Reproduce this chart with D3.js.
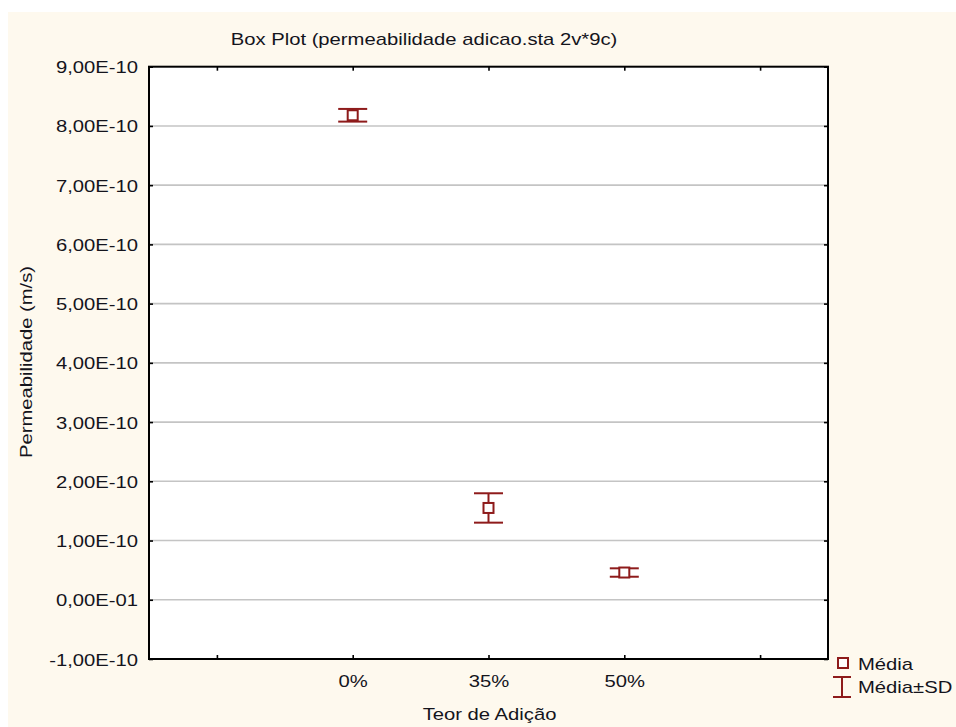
<!DOCTYPE html>
<html>
<head>
<meta charset="utf-8">
<script src="https://cdn.jsdelivr.net/npm/d3@7"></script>
<style>
  html, body { margin: 0; padding: 0; background: #fff; }
  svg { display: block; }
  text { font-family: "Liberation Sans", Arial, sans-serif; fill: #14141c; }
</style>
</head>
<body>
<svg id="chart" width="956" height="727"></svg>
<script>
// Mean ± SD of permeability by addition content
const groups = ["0%", "35%", "50%"];
const means = [8.18e-10, 1.55e-10, 0.46e-10];
const sds = [1.07e-11, 2.48e-11, 0.71e-11];

// Category slots along x (outer slots are empty)
const xTickLabels = ["", "0%", "35%", "50%", ""];

// Y axis ticks and their printed labels
const yTickValues = [-1e-10, 0, 1e-10, 2e-10, 3e-10, 4e-10, 5e-10, 6e-10, 7e-10, 8e-10, 9e-10];
const yTickLabels = ["-1,00E-10", "0,00E-01", "1,00E-10", "2,00E-10", "3,00E-10", "4,00E-10",
                     "5,00E-10", "6,00E-10", "7,00E-10", "8,00E-10", "9,00E-10"];

const titleText = "Box Plot (permeabilidade adicao.sta 2v*9c)";
const xTitle = "Teor de Adição";
const yTitle = "Permeabilidade (m/s)";
const legendLabels = ["Média", "Média±SD"];

const markColor = "#8e1b1b";
const fontSize = 17;
const stretch = 1.19;   // wide lettering

const svg = d3.select("#chart");
const plot = { left: 149, right: 828, top: 66.7, bottom: 659 };

// backdrop
svg.append("rect").attr("x", 8).attr("y", 12).attr("width", 948).attr("height", 715).attr("fill", "#fef9ee");
svg.append("rect").attr("x", plot.left).attr("y", plot.top)
  .attr("width", plot.right - plot.left).attr("height", plot.bottom - plot.top).attr("fill", "#fff");

const x = d3.scalePoint().domain(d3.range(xTickLabels.length)).range([plot.left, plot.right]).padding(0.5);
const y = d3.scaleLinear().domain([-1e-10, 9e-10]).range([plot.bottom, plot.top]);

// horizontal gridlines
svg.append("g").selectAll("line")
  .data(yTickValues.filter(v => v > -1e-10 && v < 9e-10))
  .join("line")
  .attr("x1", plot.left).attr("x2", plot.right)
  .attr("y1", d => y(d)).attr("y2", d => y(d))
  .attr("stroke", "#c4c4c4").attr("stroke-width", 1.6);

function styleAxis(g) {
  g.select(".domain").remove();
  g.selectAll(".tick line").attr("stroke", "#000").attr("stroke-width", 1.6);
}

// left axis with labels
const labelOf = d => yTickLabels[yTickValues.indexOf(d)];
const gLeft = svg.append("g").attr("transform", `translate(${plot.left},0)`)
  .call(d3.axisLeft(y).tickValues(yTickValues).tickFormat(labelOf).tickSizeInner(-4).tickSizeOuter(0))
  .call(styleAxis);
gLeft.selectAll(".tick text")
  .attr("x", null).attr("dy", null)
  .attr("transform", `translate(-11,6) scale(${stretch},1)`)
  .attr("text-anchor", "end")
  .style("font-size", fontSize + "px").style("font-family", null).attr("font-family", null).attr("fill", null);

// right axis ticks
svg.append("g").attr("transform", `translate(${plot.right},0)`)
  .call(d3.axisRight(y).tickValues(yTickValues).tickFormat("").tickSizeInner(-4).tickSizeOuter(0))
  .call(styleAxis);

// bottom axis with labels
const gBottom = svg.append("g").attr("transform", `translate(0,${plot.bottom})`)
  .call(d3.axisBottom(x).tickFormat(i => xTickLabels[i]).tickSizeInner(-4).tickSizeOuter(0))
  .call(styleAxis);
gBottom.selectAll(".tick text")
  .attr("y", null).attr("dy", null)
  .attr("transform", `translate(0,28) scale(${stretch},1)`)
  .attr("text-anchor", "middle")
  .style("font-size", fontSize + "px").attr("font-family", null).attr("fill", null);

// top axis ticks
svg.append("g").attr("transform", `translate(0,${plot.top})`)
  .call(d3.axisTop(x).tickFormat("").tickSizeInner(-4).tickSizeOuter(0))
  .call(styleAxis);

// frame
svg.append("rect").attr("x", plot.left).attr("y", plot.top)
  .attr("width", plot.right - plot.left).attr("height", plot.bottom - plot.top)
  .attr("fill", "none").attr("stroke", "#000").attr("stroke-width", 2);

// error bars and mean markers
const capHalf = 14.5, boxHalf = 5;
const rows = groups.map((g, i) => ({ g, cx: x(xTickLabels.indexOf(g)), m: means[i], s: sds[i] }));
const marks = svg.append("g").selectAll("g").data(rows).join("g");
marks.append("line")
  .attr("x1", d => d.cx).attr("x2", d => d.cx)
  .attr("y1", d => y(d.m + d.s)).attr("y2", d => y(d.m - d.s))
  .attr("stroke", markColor).attr("stroke-width", 2);
marks.selectAll(".cap").data(d => [d.m + d.s, d.m - d.s].map(v => ({ cx: d.cx, v })))
  .join("line").attr("class", "cap")
  .attr("x1", d => d.cx - capHalf).attr("x2", d => d.cx + capHalf)
  .attr("y1", d => y(d.v)).attr("y2", d => y(d.v))
  .attr("stroke", markColor).attr("stroke-width", 2);
marks.append("rect")
  .attr("x", d => d.cx - boxHalf).attr("y", d => y(d.m) - boxHalf)
  .attr("width", boxHalf * 2).attr("height", boxHalf * 2)
  .attr("fill", "#fff").attr("stroke", markColor).attr("stroke-width", 2);

// titles
function stretchedText(tx, ty, str, anchor, rotate) {
  return svg.append("text")
    .attr("transform", `translate(${tx},${ty})${rotate ? " rotate(" + rotate + ")" : ""} scale(${stretch},1)`)
    .attr("text-anchor", anchor)
    .style("font-size", fontSize + "px")
    .text(str);
}
stretchedText(424, 45, titleText, "middle");
stretchedText(489.5, 720, xTitle, "middle");
stretchedText(32, 362, yTitle, "middle", -90);

// legend
svg.append("rect").attr("x", 838).attr("y", 658).attr("width", 10).attr("height", 10)
  .attr("fill", "#fff").attr("stroke", markColor).attr("stroke-width", 2);
stretchedText(858, 670, legendLabels[0], "start");
const lg = svg.append("g").attr("stroke", markColor).attr("stroke-width", 2);
lg.append("line").attr("x1", 842).attr("x2", 842).attr("y1", 677).attr("y2", 697);
lg.append("line").attr("x1", 833).attr("x2", 851).attr("y1", 677).attr("y2", 677);
lg.append("line").attr("x1", 833).attr("x2", 851).attr("y1", 697).attr("y2", 697);
stretchedText(858, 693, legendLabels[1], "start");
</script>
</body>
</html>
